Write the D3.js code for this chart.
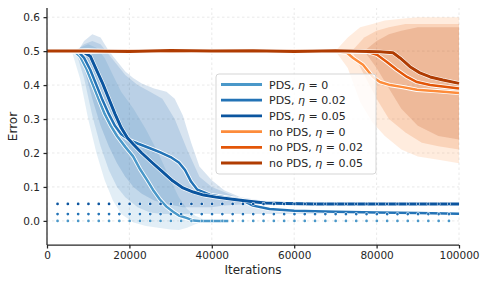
<!DOCTYPE html>
<html>
<head>
<meta charset="utf-8">
<script src="https://cdn.jsdelivr.net/npm/d3@7"></script>
<style>
  body { margin: 0; background: #fff; }
  svg text { font-family: "DejaVu Sans", sans-serif; fill: #262626; }
</style>
</head>
<body>
<div id="chart"></div>
<script>
var dim = { width: 489, height: 286 };
var margin = { left: 47, right: 30, top: 8, bottom: 41 };

// x ticks / y ticks
var xTicks = [0, 20000, 40000, 60000, 80000, 100000];
var yTicks = [0.0, 0.1, 0.2, 0.3, 0.4, 0.5, 0.6];

var labels = ["PDS, ", "PDS, ", "PDS, ", "no PDS, ", "no PDS, ", "no PDS, "];
var etas = ["0", "0.02", "0.05", "0", "0.02", "0.05"];
var colors = ["#4a98c9", "#2373b6", "#0b559f", "#fd8c3b", "#e35608", "#b03c02"];

// mean error curves [iteration, error]
var pds0 = [[0,0.5],[6500,0.5],[8000,0.485],[9500,0.45],[11000,0.405],[12500,0.36],[14000,0.315],[15500,0.28],[17000,0.25],[19000,0.218],[20900,0.19],[22600,0.152],[24300,0.12],[25700,0.092],[27400,0.063],[29000,0.042],[30600,0.027],[32000,0.016],[34000,0.008],[35500,0.001],[37000,0],[44000,0]];
var pds2 = [[0,0.5],[7500,0.5],[9000,0.48],[10500,0.445],[12000,0.4],[13500,0.355],[15000,0.315],[16500,0.28],[18000,0.255],[20000,0.238],[22000,0.228],[25000,0.214],[27500,0.202],[30000,0.188],[32000,0.172],[33500,0.15],[35000,0.115],[36500,0.092],[39500,0.077],[43000,0.07],[47000,0.063],[50000,0.045],[54000,0.035],[60000,0.03],[70000,0.027],[80000,0.025],[90000,0.023],[100000,0.021]];
var pds5 = [[0,0.5],[8500,0.5],[10500,0.485],[12000,0.445],[13500,0.405],[15000,0.36],[16500,0.315],[18000,0.275],[19500,0.245],[21000,0.225],[23000,0.2],[25500,0.172],[28000,0.145],[30500,0.118],[33000,0.097],[35500,0.085],[38000,0.076],[41000,0.07],[45000,0.064],[49000,0.058],[53000,0.053],[58000,0.051],[65000,0.05],[100000,0.05]];
var nopds0 = [[0,0.5],[10000,0.502],[20000,0.498],[30000,0.501],[40000,0.499],[50000,0.502],[60000,0.499],[70000,0.5],[72800,0.495],[74300,0.48],[76700,0.46],[79100,0.424],[80800,0.409],[83300,0.4],[86400,0.394],[89800,0.386],[94700,0.382],[100000,0.377]];
var nopds2 = [[0,0.5],[10000,0.498],[20000,0.502],[30000,0.499],[40000,0.501],[50000,0.499],[60000,0.502],[70000,0.5],[77700,0.498],[80100,0.489],[82500,0.468],[84900,0.445],[87400,0.424],[89800,0.409],[93000,0.4],[97100,0.394],[100000,0.39]];
var nopds5 = [[0,0.5],[10000,0.5],[20000,0.499],[30000,0.502],[40000,0.5],[50000,0.501],[60000,0.499],[70000,0.501],[80800,0.498],[84000,0.495],[85700,0.48],[88100,0.454],[90500,0.436],[93000,0.424],[96100,0.415],[100000,0.405]];
var curves = [pds0, pds2, pds5, nopds0, nopds2, nopds5];

// spread bands [iteration, low, high]
var bandPds0 = [[6000,0.5,0.5],[8000,0.42,0.51],[10000,0.3,0.52],[12000,0.2,0.51],[14000,0.12,0.48],[16000,0.06,0.43],[18000,0.02,0.38],[21000,-0.005,0.33],[24000,-0.015,0.27],[27000,-0.02,0.2],[30000,-0.025,0.12],[32000,-0.027,0.07],[34000,-0.02,0.035],[36000,-0.01,0.015],[38000,0,0.005],[44000,0,0]];
var bandPds2 = [[7000,0.5,0.5],[9000,0.42,0.52],[11000,0.31,0.53],[13000,0.22,0.52],[15000,0.15,0.49],[17000,0.1,0.46],[19000,0.07,0.43],[22000,0.04,0.4],[25000,0.025,0.38],[28000,0.02,0.36],[31000,0.02,0.3],[34000,0.02,0.21],[37000,0.02,0.13],[40000,0.02,0.1],[44000,0.02,0.08],[48000,0.02,0.06],[55000,0.02,0.035],[65000,0.02,0.03],[100000,0.02,0.022]];
var bandPds5 = [[7500,0.5,0.5],[9000,0.45,0.53],[11000,0.36,0.55],[13000,0.28,0.54],[15000,0.22,0.5],[17000,0.17,0.47],[19000,0.13,0.44],[21000,0.1,0.42],[23000,0.08,0.405],[26000,0.06,0.39],[29000,0.05,0.38],[31000,0.045,0.36],[33000,0.04,0.31],[35000,0.04,0.23],[37000,0.04,0.16],[40000,0.04,0.12],[43000,0.045,0.09],[47000,0.048,0.07],[52000,0.05,0.06],[60000,0.05,0.052],[100000,0.05,0.05]];
var bandNo0 = [[70000,0.5,0.5],[73000,0.45,0.54],[76000,0.35,0.57],[79000,0.29,0.58],[82000,0.25,0.59],[86000,0.21,0.595],[90000,0.19,0.6],[95000,0.18,0.6],[100000,0.17,0.6]];
var bandNo2 = [[74000,0.5,0.5],[77000,0.43,0.54],[80000,0.36,0.56],[83000,0.3,0.57],[87000,0.26,0.58],[91000,0.23,0.58],[95000,0.22,0.58],[100000,0.21,0.58]];
var bandNo5 = [[77000,0.5,0.5],[80000,0.45,0.53],[83000,0.39,0.55],[86000,0.33,0.56],[90000,0.28,0.57],[95000,0.25,0.57],[100000,0.24,0.57]];
var bands = [bandPds0, bandPds2, bandPds5, bandNo0, bandNo2, bandNo5];

// target error levels (dotted)
var targets = [0, 0.02, 0.05];


var svg = d3.select("#chart").append("svg")
    .attr("width", dim.width)
    .attr("height", dim.height);

var x = d3.scaleLinear()
    .domain([0, 100000])
    .range([margin.left, dim.width - margin.right]);
var y = d3.scaleLinear()
    .domain([-0.071, 0.627])
    .range([dim.height - margin.bottom, margin.top]);

// grid
var grid = svg.append("g").attr("class", "grid");
grid.selectAll(".gx").data(xTicks).enter().append("line")
    .attr("x1", d => x(d)).attr("x2", d => x(d))
    .attr("y1", y.range()[0]).attr("y2", y.range()[1])
    .attr("stroke", "#e3e3e3").attr("stroke-width", 0.8)
    .attr("stroke-dasharray", "2.5,2.5");
grid.selectAll(".gy").data(yTicks).enter().append("line")
    .attr("y1", d => y(d)).attr("y2", d => y(d))
    .attr("x1", x.range()[0]).attr("x2", x.range()[1])
    .attr("stroke", "#e3e3e3").attr("stroke-width", 0.8)
    .attr("stroke-dasharray", "2.5,2.5");

// bands
var area = d3.area()
    .x(d => x(d[0]))
    .y0(d => y(d[1]))
    .y1(d => y(d[2]));
svg.append("g").selectAll("path")
    .data(bands).enter().append("path")
    .attr("d", area)
    .attr("fill", (d, i) => colors[i])
    .attr("fill-opacity", (d, i) => i < 3 ? 0.16 : 0.17)
    .attr("stroke", "none");

// curves, white outline underneath
var line = d3.line()
    .x(d => x(d[0]))
    .y(d => y(d[1]));
var lineGroup = svg.append("g");
curves.forEach(function (c, i) {
    lineGroup.append("path").datum(c)
        .attr("d", line)
        .attr("fill", "none")
        .attr("stroke", "#fff")
        .attr("stroke-width", 4.2)
        .attr("stroke-linejoin", "round");
    lineGroup.append("path").datum(c)
        .attr("d", line)
        .attr("fill", "none")
        .attr("stroke", colors[i])
        .attr("stroke-width", i == 2 || i == 5 ? 3 : 2.5)
        .attr("stroke-linejoin", "round");
});

// dotted target levels, drawn over the curves
var dots = svg.append("g");
[["#fff", 3.6], [null, 2.6]].forEach(function (s) {
    dots.append("g").selectAll("line")
        .data(targets).enter().append("line")
        .attr("x1", x(0) + 10.5).attr("x2", x(100000))
        .attr("y1", d => y(d)).attr("y2", d => y(d))
        .attr("stroke", (d, i) => s[0] || colors[i])
        .attr("stroke-width", s[1])
        .attr("stroke-linecap", "round")
        .attr("stroke-dasharray", "0.1,10.2");
});

// axes
var xAxis = svg.append("g")
    .attr("transform", `translate(0,${y.range()[0]})`)
    .call(d3.axisBottom(x).tickValues(xTicks).tickFormat(d3.format("d")).tickSize(3.5).tickPadding(3.5));
var yAxis = svg.append("g")
    .attr("transform", `translate(${x.range()[0]},0)`)
    .call(d3.axisLeft(y).tickValues(yTicks).tickFormat(d3.format(".1f")).tickSize(3.5).tickPadding(3.5));
[xAxis, yAxis].forEach(function (a) {
    a.select(".domain").attr("stroke", "#262626").attr("stroke-width", 1.25);
    a.selectAll(".tick line").attr("stroke", "#262626").attr("stroke-width", 1.25);
    a.selectAll(".tick text")
        .attr("font-size", "10.5px")
        .attr("font-family", "DejaVu Sans")
        .attr("fill", "#262626");
});
xAxis.select(".domain").attr("d", `M${x.range()[0]},0H${x.range()[1]}`);
yAxis.select(".domain").attr("d", `M0,${y.range()[0]}V${y.range()[1]}`);

svg.append("text")
    .attr("x", (x.range()[0] + x.range()[1]) / 2)
    .attr("y", 274)
    .attr("text-anchor", "middle")
    .attr("font-size", "12px")
    .text("Iterations");
svg.append("text")
    .attr("transform", `translate(17,${(y.range()[0] + y.range()[1]) / 2}) rotate(-90)`)
    .attr("text-anchor", "middle")
    .attr("font-size", "12px")
    .text("Error");

// legend
var legend = svg.append("g").attr("transform", "translate(216,74)");
legend.append("rect")
    .attr("width", 160).attr("height", 100)
    .attr("rx", 3).attr("ry", 3)
    .attr("fill", "#fff").attr("fill-opacity", 0.8)
    .attr("stroke", "#d0d0d0").attr("stroke-width", 0.9);
var items = legend.selectAll(".item")
    .data(labels).enter().append("g")
    .attr("transform", (d, i) => `translate(0,${10.5 + i * 15.7})`);
items.append("line")
    .attr("x1", 5).attr("x2", 46)
    .attr("stroke", (d, i) => colors[i])
    .attr("stroke-width", 2.8);
var texts = items.append("text")
    .attr("x", 53).attr("y", 4)
    .attr("font-size", "11px");
texts.append("tspan").text(d => d);
texts.append("tspan").attr("font-style", "italic").text("η");
texts.append("tspan").text((d, i) => " = " + etas[i]);
</script>
</body>
</html>
